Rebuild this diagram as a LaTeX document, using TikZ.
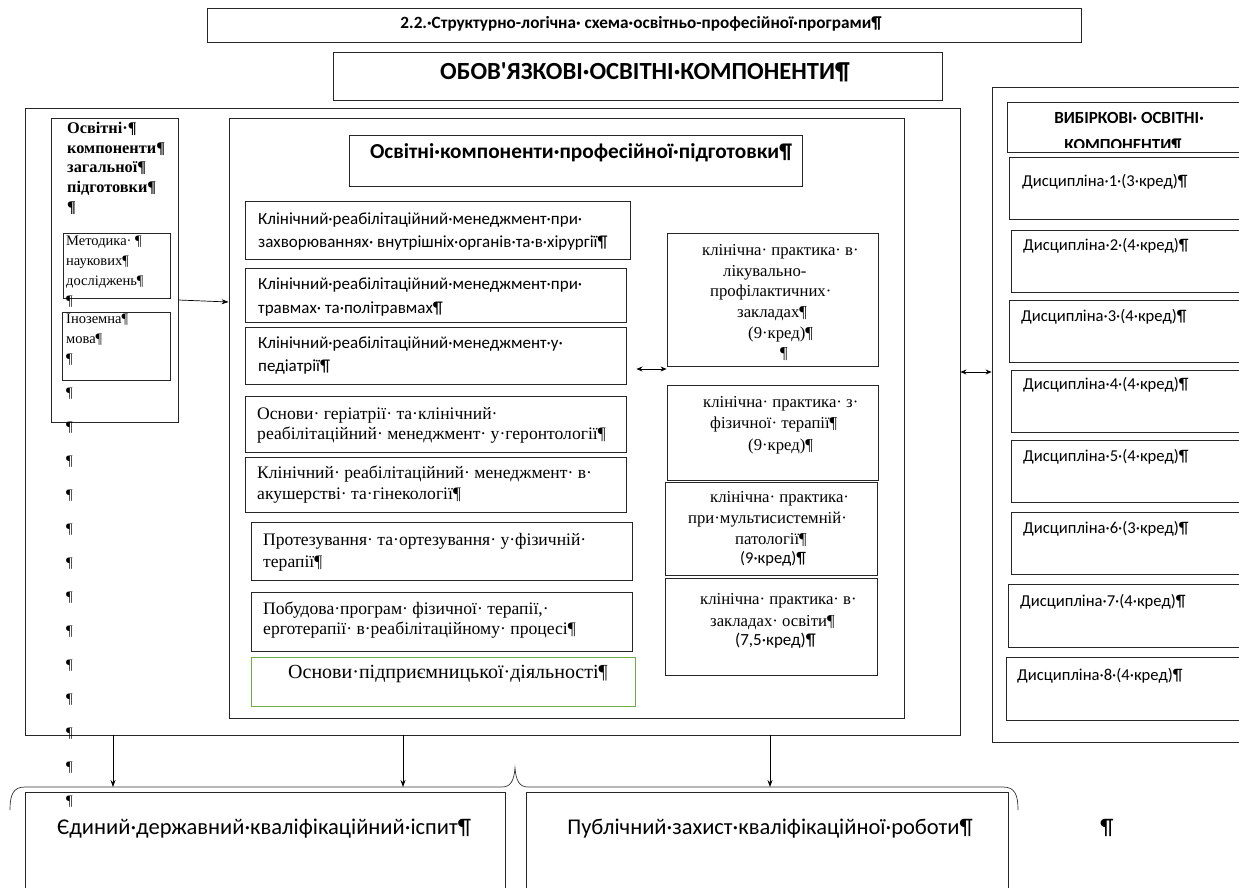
\documentclass[tikz,border=0pt]{standalone}
\usepackage{fontspec}
\setmainfont{Liberation Serif}
\newfontfamily\carlito{Carlito}
\usetikzlibrary{arrows.meta,fit}
\begin{document}
\begin{tikzpicture}[x=1pt,y=-1pt,
  box/.style={draw=black!85,line width=0.9pt,inner sep=0pt},
  gbox/.style={draw={rgb,255:red,112;green,173;blue,71},line width=0.9pt,inner sep=0pt},
  txt/.style={inner sep=0pt,align=left,anchor=north west},
  mtxt/.style={inner sep=0pt,anchor=mid},
  lmtxt/.style={inner sep=0pt,anchor=mid west},
  cal/.style={font=\carlito\fontsize{17}{23}\selectfont},
  ser/.style={font=\fontsize{17.6}{20.5}\selectfont},
  pser/.style={font=\fontsize{16.7}{20.6}\selectfont},
  arr/.style={-{Stealth[length=7pt,width=5pt]},line width=0.7pt},
  dbl/.style={{Stealth[length=6pt,width=5pt]}-{Stealth[length=6pt,width=5pt]},line width=0.7pt}]
\useasboundingbox (0,0) rectangle (1239,887);
% header boxes
\node[box,fit={(207,8) (1081,42)}] (title) {};
\node[mtxt,font=\carlito\bfseries\fontsize{17.2}{18}\selectfont] (titletxt) at (641,26) {2.2.·Структурно-логічна· схема·освітньо-професійної·програми¶};
\node[box,fit={(333,52) (942,100)}] (oblig) {};
\node[mtxt,font=\carlito\bfseries\fontsize{24.6}{28}\selectfont] (obligtxt) at (645,77) {ОБОВ'ЯЗКОВІ·ОСВІТНІ·КОМПОНЕНТИ¶};
% big container
\node[box,fit={(25,108) (960,735)}] (big) {};
% left column
\node[box,fit={(51,118) (178,422)}] (lcol) {};
\node[txt,font=\bfseries\fontsize{16.3}{19.7}\selectfont] (lcoltxt) at (67,122) {Освітні·¶\\компоненти¶\\загальної¶\\підготовки¶\\¶};
\node[box,fit={(63,233) (170,298)}] (metod) {};
\node[txt,font=\fontsize{14.5}{20}\selectfont] (metodtxt) at (66,235.5) {Методика· ¶\\наукових¶\\досліджень¶\\¶};
\node[box,fit={(62,312) (170,380)}] (foreign) {};
\node[txt,font=\fontsize{14.5}{20}\selectfont] (foreigntxt) at (66,313.5) {Іноземна¶\\мова¶\\¶};
\node[txt,font=\fontsize{14.5}{34}\selectfont] (pilcrows) at (66,388) {¶\\¶\\¶\\¶\\¶\\¶\\¶\\¶\\¶\\¶\\¶\\¶\\¶};
% professional block
\node[box,fit={(229,118) (904,718)}] (prof) {};
\node[box,fit={(349,135) (802,186)}] (profhead) {};
\node[mtxt,font=\carlito\bfseries\fontsize{21.3}{24}\selectfont] (profheadtxt) at (581,156) {Освітні·компоненти·професійної·підготовки¶};
\node[box,fit={(245,201) (630,259)}] (c1) {};
\node[txt,cal] (c1t) at (258,212.5) {Клінічний·реабілітаційний·менеджмент·при·\\захворюваннях· внутрішніх·органів·та·в·хірургії¶};
\node[box,fit={(245,268) (626,322)}] (c2) {};
\node[txt,cal,font=\carlito\fontsize{17}{24}\selectfont] (c2t) at (258,277.5) {Клінічний·реабілітаційний·менеджмент·при·\\травмах· та·політравмах¶};
\node[box,fit={(245,327) (626,384)}] (c3) {};
\node[txt,cal] (c3t) at (258,336.5) {Клінічний·реабілітаційний·менеджмент·у·\\педіатрії¶};
\node[box,fit={(245,396) (626,452)}] (c4) {};
\node[txt,ser,font=\fontsize{17.6}{20}\selectfont] (c4t) at (257,407) {Основи· геріатрії· та·клінічний·\\реабілітаційний· менеджмент· у·геронтології¶};
\node[box,fit={(245,457) (626,512)}] (c5) {};
\node[txt,ser,font=\fontsize{17.6}{21}\selectfont] (c5t) at (257,466) {Клінічний· реабілітаційний· менеджмент· в·\\акушерстві· та·гінекології¶};
\node[box,fit={(251,522) (632,580)}] (c6) {};
\node[txt,ser,font=\fontsize{17.6}{22}\selectfont] (c6t) at (263,533) {Протезування· та·ортезування· у·фізичній·\\терапії¶};
\node[box,fit={(251,592) (632,651)}] (c7) {};
\node[txt,ser,font=\fontsize{17.6}{20}\selectfont] (c7t) at (263,602) {Побудова·програм· фізичної· терапії,·\\ерготерапії· в·реабілітаційному· процесі¶};
\node[gbox,fit={(251,657) (635,706)}] (c8) {};
\node[lmtxt,font=\fontsize{20}{24}\selectfont] (c8t) at (288,676) {Основи·підприємницької·діяльності¶};
% practice boxes
\node[box,fit={(667,233) (878,366)}] (p1) {};
\node[txt,pser] (p1t) at (702,244.5) {клінічна· практика· в·\\\hspace*{21pt}лікувально-\\\hspace*{8pt}профілактичних·\\\hspace*{35pt}закладах¶\\\hspace*{46pt}(9·кред)¶\\\hspace*{78pt}¶};
\node[box,fit={(667,385) (878,480)}] (p2) {};
\node[txt,pser,font=\fontsize{16.7}{21.5}\selectfont] (p2t) at (703,396) {клінічна· практика· з·\\\hspace*{7pt}фізичної· терапії¶\\\hspace*{45pt}(9·кред)¶};
\node[box,fit={(665,482) (877,575)}] (p3) {};
\node[txt,pser,font=\fontsize{16.7}{21}\selectfont] (p3t) at (688,491) {\hspace*{22pt}клінічна· практика·\\при·мультисистемній·\\\hspace*{47pt}патології¶};
\node[lmtxt,font=\carlito\fontsize{16.5}{18}\selectfont] (p3c) at (740,561) {(9·кред)¶};
\node[box,fit={(665,578) (877,675)}] (p4) {};
\node[txt,pser,font=\fontsize{16.7}{22}\selectfont] (p4t) at (700,593) {клінічна· практика· в·\\\hspace*{10pt}закладах· освіти¶};
\node[lmtxt,font=\carlito\fontsize{17}{18}\selectfont] (p4c) at (735,643) {(7,5·кред)¶};
% elective block
\node[box,fit={(992,87) (1250,742)}] (elect) {};
\node[box,fit={(1007,102) (1250,152)}] (electhead) {};
\node[inner sep=0pt,anchor=base,font=\carlito\bfseries\fontsize{17}{20}\selectfont] (electh1) at (1129,123) {ВИБІРКОВІ· ОСВІТНІ·};
\begin{scope}
\clip (1007,102) rectangle (1250,147.5);
\node[inner sep=0pt,anchor=base,font=\carlito\bfseries\fontsize{17}{20}\selectfont] (electh2) at (1123,150) {КОМПОНЕНТИ¶};
\end{scope}
\tikzset{dtxt/.style={inner sep=0pt,anchor=mid west,font=\carlito\fontsize{16.6}{18}\selectfont}}
\node[box,fit={(1009,157) (1250,219)}] (d1) {};
\node[dtxt] (d1t) at (1022,184) {Дисципліна·1·(3·кред)¶};
\node[box,fit={(1011,230) (1250,292)}] (d2) {};
\node[dtxt] (d2t) at (1023,248) {Дисципліна·2·(4·кред)¶};
\node[box,fit={(1009,300) (1250,362)}] (d3) {};
\node[dtxt] (d3t) at (1021,319) {Дисципліна·3·(4·кред)¶};
\node[box,fit={(1011,370) (1250,432)}] (d4) {};
\node[dtxt] (d4t) at (1023,387) {Дисципліна·4·(4·кред)¶};
\node[box,fit={(1011,440) (1250,502)}] (d5) {};
\node[dtxt] (d5t) at (1023,459) {Дисципліна·5·(4·кред)¶};
\node[box,fit={(1011,512) (1250,574)}] (d6) {};
\node[dtxt] (d6t) at (1023,531) {Дисципліна·6·(3·кред)¶};
\node[box,fit={(1008,584) (1250,647)}] (d7) {};
\node[dtxt] (d7t) at (1020,604) {Дисципліна·7·(4·кред)¶};
\node[box,fit={(1006,657) (1250,720)}] (d8) {};
\node[dtxt] (d8t) at (1017,678) {Дисципліна·8·(4·кред)¶};
% final boxes
\node[box,fit={(25,792) (505,900)}] (exam) {};
\node[mtxt,font=\carlito\fontsize{22.5}{24}\selectfont] (examt) at (264,832) {Єдиний·державний·кваліфікаційний·іспит¶};
\node[box,fit={(526,792) (1008,900)}] (defense) {};
\node[mtxt,font=\carlito\fontsize{22.5}{24}\selectfont] (defenset) at (770,832) {Публічний·захист·кваліфікаційної·роботи¶};
\node[mtxt,font=\carlito\fontsize{22.5}{24}\selectfont] (lonepil) at (1107,832) {¶};
% brace
\coordinate (b1) at (113,787);
\coordinate (b2) at (403,787);
\coordinate (b3) at (770,787);
\draw[line width=0.7pt,black!80] (10,810) .. controls (10,795) and (13,787) .. (25,787) -- (502,787)
  .. controls (511,787) and (514,780) .. (515,768) .. controls (516,780) and (519,787) .. (528,787)
  -- (1003,787) .. controls (1015,787) and (1018,795) .. (1018,810);
% connectors
\draw[arr] (lcol.east |- 0,300) -- (prof.west |- 0,302);
\draw[dbl] ([xshift=10pt]c3.east |- 0,369) -- (p1.west |- 0,369);
\draw[dbl] (big.east |- 0,372) -- (elect.west |- 0,372);
\draw[arr] (big.south -| b1) -- (b1);
\draw[arr] (big.south -| b2) -- (b2);
\draw[arr] (big.south -| b3) -- (b3);
\end{tikzpicture}
\end{document}
